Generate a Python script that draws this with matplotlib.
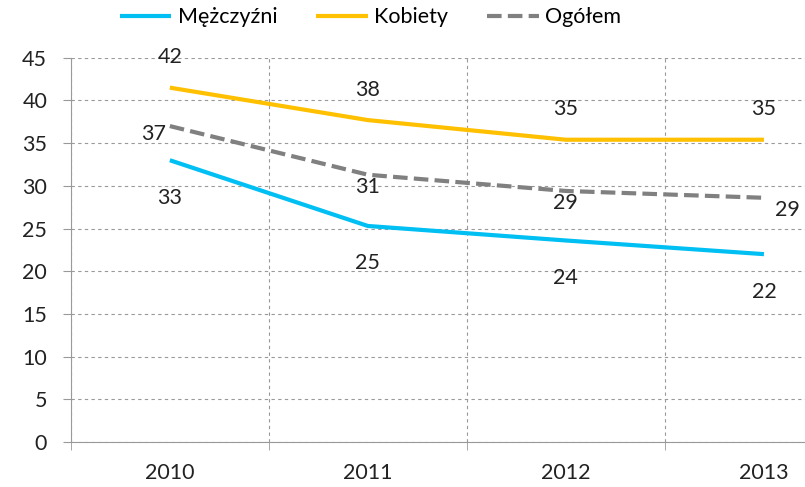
import matplotlib
matplotlib.use("Agg")
import matplotlib.pyplot as plt
import numpy as np

# --- Data ---
years = ["2010", "2011", "2012", "2013"]
men = [33.0, 25.3, 23.6, 22.0]
women = [41.5, 37.7, 35.4, 35.4]
total = [37.0, 31.3, 29.4, 28.6]
men_labels = ["33", "25", "24", "22"]
women_labels = ["42", "38", "35", "35"]
total_labels = ["37", "31", "29", "29"]

plt.rcParams['font.family'] = ['Lato', 'DejaVu Sans']
FS = 15.5

fig = plt.figure(figsize=(8.05, 4.87), dpi=100)
ax = fig.add_axes([0.088, 0.0924, 0.984, 0.789])

x = np.arange(len(years))
ax.plot(x, men, color="#00BFF3", lw=3, label="Mężczyźni", solid_capstyle="butt")
ax.plot(x, women, color="#FFC000", lw=3, label="Kobiety", solid_capstyle="butt")
ax.plot(x, total, color="#808080", lw=3, ls=(0, (3.5, 1.5)), label="Ogółem")

# data labels
for xi, v, t in zip(x, women, women_labels):
    ax.annotate(t, (xi, v), xytext=(0, 22), textcoords="offset points",
                ha="center", va="center", fontsize=FS, color="#222222")
for xi, v, t in zip(x, men, men_labels):
    ax.annotate(t, (xi, v), xytext=(0, -27), textcoords="offset points",
                ha="center", va="center", fontsize=FS, color="#222222")
total_offsets = [(-12, -6), (0, -9), (0, -9), (17, -9)]
for xi, v, t, off in zip(x, total, total_labels, total_offsets):
    ax.annotate(t, (xi, v), xytext=off, textcoords="offset points",
                ha="center", va="center", fontsize=FS, color="#222222")

ax.set_xlim(-0.5, 3.5)
ax.set_ylim(0, 45)
ax.set_yticks(np.arange(0, 46, 5))
ax.set_xticks(x)
ax.set_xticklabels(years)
ax.set_xticks([-0.5, 0.5, 1.5, 2.5, 3.5], minor=True)

ax.grid(axis="y", which="major", ls=(0, (3, 3)), color="#999999", lw=0.8)
ax.grid(axis="x", which="minor", ls=(0, (3, 3)), color="#999999", lw=0.8)
ax.set_axisbelow(True)

for s in ["top", "right"]:
    ax.spines[s].set_visible(False)
for s in ["left", "bottom"]:
    ax.spines[s].set_color("#999999")
ax.tick_params(axis="y", labelsize=FS, colors="#999999", labelcolor="#222222",
               length=6, pad=11)
ax.tick_params(axis="x", which="major", length=0, labelsize=FS, labelcolor="#222222", pad=15)
ax.tick_params(axis="x", which="minor", length=6, colors="#999999")

fig.legend(loc="upper center", bbox_to_anchor=(0.46, 1.025), ncol=3, frameon=False,
           fontsize=FS, handlelength=2.4, columnspacing=1.8, handletextpad=0.3)

fig.savefig("out.png", dpi=100)
